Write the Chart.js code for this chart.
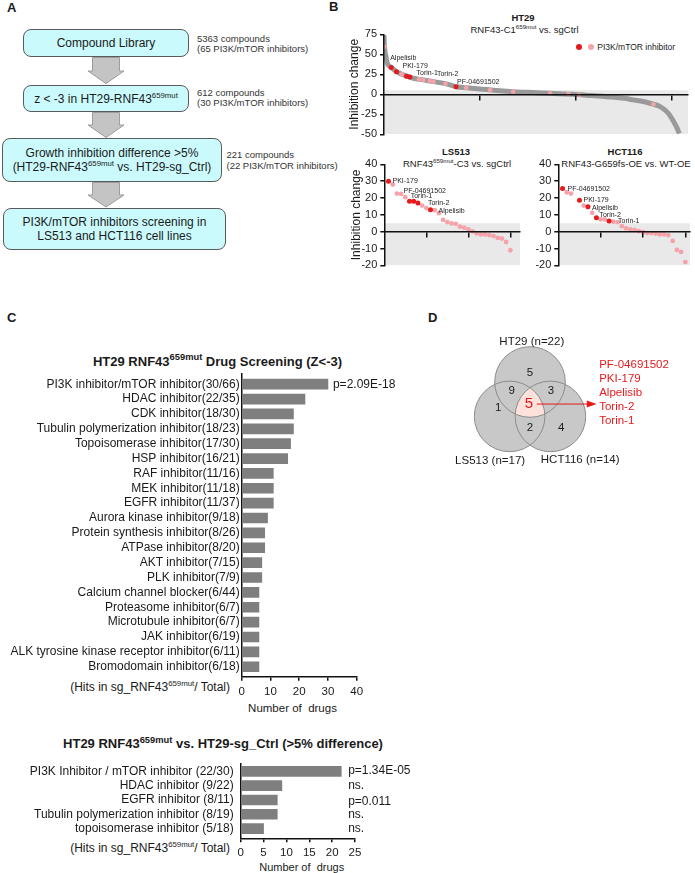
<!DOCTYPE html>
<html>
<head>
<meta charset="utf-8">
<script src="https://cdn.jsdelivr.net/npm/chart.js@4.4.1/dist/chart.umd.min.js"></script>
<style>
body { margin: 0; background: #fff; font-family: "Liberation Sans", Arial, sans-serif; color: #1a1a1a; }
#page { position: relative; width: 695px; height: 873px; overflow: hidden; }
.t { position: absolute; white-space: nowrap; line-height: 1; }
.c { transform: translate(-50%, -50%); }
.l { transform: translateY(-50%); }
.r { transform: translate(-100%, -50%); }
.box { position: absolute; box-sizing: border-box; border: 1px solid #5a5a5a; border-radius: 8px;
       background: #cbfafd; display: flex; flex-direction: column; align-items: center;
       justify-content: center; font-size: 12px; line-height: 14px; white-space: nowrap; }
sup { font-size: 0.65em; line-height: 0; vertical-align: 0; position: relative; top: -0.6em; }
.big sup { font-size: 0.72em; }
.pl { font-weight: bold; font-size: 13px; }
canvas { position: absolute; }
.dot { position: absolute; width: 6px; height: 6px; border-radius: 50%; transform: translate(-50%, -50%); }
</style>
</head>
<body>
<div id="page">

  <!-- panel A : workflow -->
  <div class="t l pl" style="left:7px;top:7px">A</div>
  <div class="box" style="left:23px;top:29px;width:166px;height:28px"><div>Compound Library</div></div>
  <div class="box" style="left:23px;top:85px;width:166px;height:27px"><div>z &lt; -3 in HT29-RNF43<sup>659mut</sup></div></div>
  <div class="box" style="left:2px;top:138px;width:220px;height:44px">
    <div>Growth inhibition difference &gt;5%</div>
    <div>(HT29-RNF43<sup>659mut</sup> vs. HT29-sg_Ctrl)</div>
  </div>
  <div class="box" style="left:3px;top:208px;width:223px;height:42px">
    <div>PI3K/mTOR inhibitors screening in</div>
    <div>LS513 and HCT116 cell lines</div>
  </div>
  <svg style="position:absolute;left:0;top:0" width="240" height="260">
    <g fill="#c4c4c4" stroke="#9c9c9c" stroke-width="1">
      <polygon points="92.5,57.5 119.5,57.5 119.5,71 124,71 106,83.5 88,71 92.5,71"/>
      <polygon points="92.5,112.5 119.5,112.5 119.5,125 124,125 106,137.5 88,125 92.5,125"/>
      <polygon points="92.5,182.5 119.5,182.5 119.5,195 124,195 106,207 88,195 92.5,195"/>
    </g>
  </svg>
  <div class="t" style="left:197px;top:33.5px;font-size:9.5px;line-height:10.6px;color:#333">5363 compounds<br>(65 PI3K/mTOR inhibitors)</div>
  <div class="t" style="left:197px;top:87.7px;font-size:9.5px;line-height:10.6px;color:#333">612 compounds<br>(30 PI3K/mTOR inhibitors)</div>
  <div class="t" style="left:226.5px;top:148.5px;font-size:9.5px;line-height:11px;color:#333">221 compounds<br>(22 PI3K/mTOR inhibitors)</div>

  <!-- panel B texts -->
  <div class="t l pl" style="left:329px;top:6px">B</div>
  <div class="t c" style="left:523px;top:18.3px;font-size:9.5px;font-weight:bold">HT29</div>
  <div class="t c" style="left:524.5px;top:30px;font-size:9.5px">RNF43-C1<sup>659mut</sup> vs. sgCtrl</div>
  <div class="dot" style="left:579.3px;top:46.7px;background:#e41a1c"></div>
  <div class="dot" style="left:591px;top:46.7px;background:#f5a3aa"></div>
  <div class="t l" style="left:597.3px;top:47px;font-size:8.5px">PI3K/mTOR inhibitor</div>
  <div class="t c" style="left:456px;top:152px;font-size:9.5px;font-weight:bold">LS513</div>
  <div class="t c" style="left:457px;top:164px;font-size:9.5px">RNF43<sup>659mut</sup>-C3 vs. sgCtrl</div>
  <div class="t c" style="left:625px;top:152px;font-size:9.5px;font-weight:bold">HCT116</div>
  <div class="t c" style="left:626px;top:164px;font-size:9.5px">RNF43-G659fs-OE vs. WT-OE</div>

  <!-- panel C texts -->
  <div class="t l pl" style="left:7px;top:317px">C</div>
  <div class="t c big" style="left:217.5px;top:361px;font-size:13px;font-weight:bold">HT29 RNF43<sup>659mut</sup> Drug Screening (Z&lt;-3)</div>
  <div class="t r" style="left:230px;top:686.7px;font-size:12px">(Hits in sg_RNF43<sup>659mut</sup>/ Total)</div>
  <div class="t c" style="left:292.5px;top:709.3px;font-size:11.5px">Number of &nbsp;drugs</div>
  <div class="t c big" style="left:223px;top:743.3px;font-size:13px;font-weight:bold">HT29 RNF43<sup>659mut</sup> vs. HT29-sg_Ctrl (&gt;5% difference)</div>
  <div class="t r" style="left:230px;top:848px;font-size:12px">(Hits in sg_RNF43<sup>659mut</sup>/ Total)</div>
  <div class="t c" style="left:301.7px;top:867.3px;font-size:11px">Number of &nbsp;drugs</div>

  <!-- panel D -->
  <div class="t l pl" style="left:428px;top:317px">D</div>
</div>

<script>
// ---- B: HT29 ranked inhibition change (612 compounds)
const ht29Rank   = [0, 1, 4, 7, 16, 26, 37, 51, 61, 82, 103, 130, 150, 172, 200, 228, 269, 318, 346, 394, 430, 464, 500, 519, 540, 554, 575, 592, 603, 610, 615];
const ht29Change = [74, 59.5, 47.5, 38.7, 33.3, 28.3, 25, 22, 20, 18, 15.8, 13, 9.5, 8.3, 6.6, 5, 3.3, 2, 1.2, 0, -1.5, -3, -5, -7, -9, -11.2, -15.4, -23.7, -34, -42, -49];
const ht29PinkRank   = [1, 37, 73, 82, 95, 103, 128, 171, 221, 269, 346, 384, 406, 561];
const ht29PinkChange = [59.5, 25, 18.8, 18, 16.8, 15.8, 13.2, 8.3, 5.2, 3.3, 1.2, 0.2, -0.6, -12.5];
const ht29RedRank   = [15, 26, 47, 54, 150];
const ht29RedChange = [33.5, 28.3, 22.5, 21.5, 9.5];
const ht29RedName   = ['Alpelisib', 'PKI-179', 'Torin-1', 'Torin-2', 'PF-04691502'];
const ht29YTicks    = [-50, -25, 0, 25, 50, 75];
const ht29XTicks    = [200, 400, 600];

// ---- B: LS513 (PI3K/mTOR inhibitors only)
const ls513Rank   = [1,2,3,4,5,6,7,8,9,10,11,12,13,14,15,16,17,18,19,20,21,22,23,24,25,26,27,28,29,30];
const ls513Change = [30, 28, 22.6, 22.4, 20.5, 18, 18, 17, 15.5, 14, 13, 12.8, 11, 7, 5.7, 4.9, 4.7, 3, 2.4, 1.4, 0.2, -1, -1.6, -1.6, -2, -2.6, -3.7, -4.1, -6.1, -11];
const ls513Name   = ['PKI-179','','','','','PF-04691502','Torin-1','Torin-2','','','Alpelisib','','','','','','','','','','','','','','','','','','',''];

// ---- B: HCT116
const hctRank   = [1,2,3,5,6,7,8,9,10,11,12,13,14,15,16,17,18,19,20,21,22,23,24,25,26,27,28,29,30];
const hctChange = [25.6, 23.4, 22.6, 18.7, 15.5, 14.8, 11.2, 8.3, 7.3, 7.3, 6.3, 5.9, 5.7, 3.3, 2, 1.4, 1, 0.4, -0.2, -0.8, -0.8, -1.2, -1.6, -1.6, -2, -5.5, -10.8, -12, -18];
const hctName   = ['PF-04691502','','','PKI-179','','Alpelisib','','Torin-2','','','Torin-1','','','','','','','','','','','','','','','','','',''];
const smallYTicks = [-20, -10, 0, 10, 20, 30, 40];
const smallXTicks = [10, 20, 30];

// ---- C: drug classes
const screenCats = ['PI3K inhibitor/mTOR inhibitor(30/66)', 'HDAC inhibitor(22/35)', 'CDK inhibitor(18/30)',
  'Tubulin polymerization inhibitor(18/23)', 'Topoisomerase inhibitor(17/30)', 'HSP inhibitor(16/21)',
  'RAF inhibitor(11/16)', 'MEK inhibitor(11/18)', 'EGFR inhibitor(11/37)', 'Aurora kinase inhibitor(9/18)',
  'Protein synthesis inhibitor(8/26)', 'ATPase inhibitor(8/20)', 'AKT inhibitor(7/15)', 'PLK inhibitor(7/9)',
  'Calcium channel blocker(6/44)', 'Proteasome inhibitor(6/7)', 'Microtubule inhibitor(6/7)', 'JAK inhibitor(6/19)',
  'ALK tyrosine kinase receptor inhibitor(6/11)', 'Bromodomain inhibitor(6/18)'];
const screenHits = [30, 22, 18, 18, 17, 16, 11, 11, 11, 9, 8, 8, 7, 7, 6, 6, 6, 6, 6, 6];
const screenP    = ['p=2.09E-18'];
const diffCats = ['PI3K Inhibitor / mTOR inhibitor (22/30)', 'HDAC inhibitor (9/22)', 'EGFR inhibitor (8/11)',
  'Tubulin polymerization inhibitor (8/19)', 'topoisomerase inhibitor (5/18)'];
const diffHits = [22, 9, 8, 8, 5];
const diffP    = ['p=1.34E-05', 'ns.', 'p=0.011', 'ns.', 'ns.'];

// ---- D: venn
const vennSets    = ['HT29', 'LS513', 'HCT116'];
const vennSizes   = [22, 17, 14];
const vennRegions = [5, 9, 3, 1, 5, 2, 4];   // HT29 only, HT29+LS513, HT29+HCT116, LS513 only, all, LS513+HCT116, HCT116 only
const vennShared  = ['PF-04691502', 'PKI-179', 'Alpelisib', 'Torin-2', 'Torin-1'];

const RED = '#e41a1c', PINK = '#f5a3aa', LINE_GREY = '#9a9a9a', SHADE = '#e9e9e9', BAR_GREY = '#7f7f7f';
const FONT = '"Liberation Sans", Arial, sans-serif';

Chart.defaults.font.family = FONT;
Chart.defaults.color = '#1a1a1a';
Chart.defaults.animation = false;
Chart.defaults.events = [];
Chart.defaults.plugins.legend.display = false;
Chart.defaults.plugins.tooltip.enabled = false;

function makeCanvas(left, top, w, h) {
  const c = document.createElement('canvas');
  c.width = w; c.height = h;
  c.style.left = left + 'px'; c.style.top = top + 'px';
  c.style.width = w + 'px'; c.style.height = h + 'px';
  document.getElementById('page').appendChild(c);
  return c;
}

function pairs(xs, ys) { return xs.map((x, i) => ({x: x, y: ys[i]})); }

// little text labels next to points (offsets in px)
function labelPlugin(items) {
  return {
    id: 'pointLabels',
    afterDatasetsDraw(chart) {
      const {ctx, scales: {x, y}} = chart;
      ctx.save();
      ctx.font = '7px ' + FONT;
      ctx.fillStyle = '#222';
      ctx.textBaseline = 'middle';
      items.forEach(it => {
        ctx.fillText(it.text, x.getPixelForValue(it.x) + it.dx, y.getPixelForValue(it.y) + it.dy);
      });
      ctx.restore();
    }
  };
}

function rankChart(canvas, o) {
  return new Chart(canvas, {
    type: 'scatter',
    data: {
      datasets: [
        {data: [{x: 0, y: 5}, {x: o.xMax, y: 5}], showLine: true, fill: 'start',
         backgroundColor: SHADE, borderWidth: 0, pointRadius: 0, order: 5},
        ...o.datasets
      ]
    },
    options: {
      responsive: false,
      devicePixelRatio: 1,
      layout: {padding: o.padding},
      scales: {
        x: {
          type: 'linear', min: 0, max: o.xMax, position: {y: 0},
          afterBuildTicks: s => { s.ticks = o.xTicks.map(v => ({value: v})); },
          afterFit: s => { s.height = 0; },
          ticks: {display: false},
          grid: {drawOnChartArea: false, tickLength: 5, color: '#111', lineWidth: 1.5, z: 1},
          border: {color: '#111', width: 1.5, z: 1}
        },
        y: {
          type: 'linear', position: 'left', min: o.yMin, max: o.yMax,
          afterBuildTicks: s => { s.ticks = o.yTicks.map(v => ({value: v})); },
          afterFit: s => { s.width = o.axisWidth; },
          ticks: {autoSkip: false, font: {size: 11}, color: '#1a1a1a', padding: 3,
                  callback: v => String(v)},
          grid: {drawOnChartArea: false, tickLength: 4, color: '#111', lineWidth: 1.5, z: 1},
          border: {color: '#111', width: 1.5, z: 1},
          title: {display: !!o.yTitle, text: o.yTitle, font: {size: 12}, color: '#1a1a1a',
                  padding: {top: o.titlePad || 0, bottom: 0}}
        }
      }
    },
    plugins: [labelPlugin(o.labels)]
  });
}

// HT29
rankChart(makeCanvas(330, 12, 365, 138), {
  xMax: 633, xTicks: ht29XTicks, yMin: -50, yMax: 75, yTicks: ht29YTicks,
  axisWidth: 54, yTitle: 'Inhibition change', titlePad: 17.8,
  padding: {top: 22.3, right: 7, bottom: 15.7, left: 0},
  datasets: [
    {data: pairs(ht29Rank, ht29Change), showLine: true, borderColor: LINE_GREY, borderWidth: 5,
     pointRadius: 0, cubicInterpolationMode: 'monotone', order: 3},
    {data: pairs(ht29PinkRank, ht29PinkChange), pointRadius: 2.3, backgroundColor: PINK, borderWidth: 0, order: 2},
    {data: pairs(ht29RedRank, ht29RedChange), pointRadius: 2.5, backgroundColor: RED, borderWidth: 0, order: 1}
  ],
  labels: [
    {text: ht29RedName[0], x: ht29RedRank[0], y: ht29RedChange[0], dx: -1, dy: -9},
    {text: ht29RedName[1], x: ht29RedRank[1], y: ht29RedChange[1], dx: 6, dy: -6},
    {text: ht29RedName[2], x: ht29RedRank[2], y: ht29RedChange[2], dx: 10, dy: -3},
    {text: ht29RedName[3], x: ht29RedRank[3], y: ht29RedChange[3], dx: 27, dy: -3},
    {text: ht29RedName[4], x: ht29RedRank[4], y: ht29RedChange[4], dx: 1, dy: -4.5}
  ]
});

function inhibitorSets(rank, change, names) {
  const pts = pairs(rank, change);
  return [
    {data: pts.filter((p, i) => !names[i]), pointRadius: 2.4, backgroundColor: PINK, borderWidth: 0, order: 2},
    {data: pts.filter((p, i) => names[i]), pointRadius: 2.5, backgroundColor: RED, borderWidth: 0, order: 1}
  ];
}
function namedLabels(rank, change, names, offsets) {
  const out = [];
  names.forEach((n, i) => { if (n) out.push({text: n, x: rank[i], y: change[i], dx: offsets[n][0], dy: offsets[n][1]}); });
  return out;
}

// LS513
rankChart(makeCanvas(330, 145, 195, 130), {
  xMax: 32.3, xTicks: smallXTicks, yMin: -20, yMax: 40, yTicks: smallYTicks,
  axisWidth: 54.3, yTitle: 'Inhibition change', titlePad: 19.5,
  padding: {top: 19.3, right: 5, bottom: 9, left: 0},
  datasets: inhibitorSets(ls513Rank, ls513Change, ls513Name),
  labels: namedLabels(ls513Rank, ls513Change, ls513Name, {
    'PKI-179': [4, 0], 'PF-04691502': [-6, -10], 'Torin-1': [-3, -5], 'Torin-2': [10, 0], 'Alpelisib': [8, 1]
  })
});

// HCT116
rankChart(makeCanvas(505, 145, 190, 130), {
  xMax: 31.1, xTicks: smallXTicks, yMin: -20, yMax: 40, yTicks: smallYTicks,
  axisWidth: 53.3, yTitle: '',
  padding: {top: 19.3, right: 5, bottom: 9, left: 0},
  datasets: inhibitorSets(hctRank, hctChange, hctName),
  labels: namedLabels(hctRank, hctChange, hctName, {
    'PF-04691502': [5, 0], 'PKI-179': [4, 0], 'Alpelisib': [4, 1], 'Torin-2': [3, -3], 'Torin-1': [9, 0]
  })
});

// ---- C: horizontal bars
function pvalPlugin(texts, hits, fixedX, dys) {
  return {
    id: 'pvals',
    afterDatasetsDraw(chart) {
      const {ctx, scales: {x, y}} = chart;
      ctx.save();
      ctx.font = '12px ' + FONT;
      ctx.fillStyle = '#1a1a1a';
      ctx.textBaseline = 'middle';
      texts.forEach((t, i) => {
        if (!t) return;
        const px = fixedX != null ? x.getPixelForValue(fixedX) : x.getPixelForValue(hits[i]) + 5;
        ctx.fillText(t, px, y.getPixelForValue(i) + (dys ? dys[i] : 0));
      });
      ctx.restore();
    }
  };
}

function hitBarChart(canvas, cats, hits, o) {
  return new Chart(canvas, {
    type: 'bar',
    data: {datasets: [{data: hits.map((v, i) => ({x: v, y: i})),
                       backgroundColor: BAR_GREY, barThickness: 10}]},
    options: {
      indexAxis: 'y',
      responsive: false,
      devicePixelRatio: 1,
      layout: {padding: o.padding},
      scales: {
        y: {
          type: 'linear', reverse: true, offset: false, min: o.yMin, max: o.yMax,
          afterBuildTicks: s => { s.ticks = cats.map((c, i) => ({value: i})); },
          afterFit: s => { s.width = o.axisWidth; },
          ticks: {autoSkip: false, padding: o.labelPad, font: {size: 12}, color: '#1a1a1a',
                  callback: v => cats[v]},
          grid: {display: false, drawTicks: false, offset: false},
          border: {color: '#111', width: 1.5}
        },
        x: {
          min: 0, max: o.xMax,
          afterFit: s => { s.height = 25; },
          ticks: {stepSize: o.xStep, font: {size: 11.5}, color: '#1a1a1a', padding: 4},
          grid: {drawOnChartArea: false, tickLength: 4, color: '#111', lineWidth: 1.5},
          border: {color: '#111', width: 1.5}
        }
      }
    },
    plugins: [pvalPlugin(o.pTexts, hits, o.pX, o.pDy)]
  });
}

hitBarChart(makeCanvas(0, 340, 420, 370), screenCats, screenHits, {
  yMin: -0.686, yMax: 19.67, axisWidth: 241.7, labelPad: 2, xMax: 40, xStep: 10,
  padding: {top: 34, right: 63.3, bottom: 8.3, left: 0},
  pTexts: screenP, pX: null, pDy: null
});

hitBarChart(makeCanvas(0, 750, 420, 123), diffCats, diffHits, {
  yMin: -0.5, yMax: 4.68, axisWidth: 240.7, labelPad: 7, xMax: 25, xStep: 5,
  padding: {top: 11.7, right: 65, bottom: 9.7, left: 0},
  pTexts: diffP, pX: 23.5, pDy: [-1, 0, 2, 0, 0]
});

// ---- D: venn (layout in circle-radius units)
const vennCenters = [[0, 0.975], [-0.578, 0], [0.578, 0]];
const regionSpots = [[0, 1.24], [-0.52, 0.73], [0.59, 0.73], [-0.9, 0.23], [-0.03, 0.35], [0, -0.32], [0.88, -0.32]];
const setLabelSpots = [[0.05, 2.1], [-1.13, -1.26], [1.42, -1.22]];

function unitPx(chart) { const s = chart.scales.x; return s.getPixelForValue(1) - s.getPixelForValue(0); }

const vennPlugin = {
  id: 'venn',
  afterDatasetDraw(chart, args) {
    if (args.index !== 0) return;
    const {ctx, scales: {x, y}} = chart;
    const r = unitPx(chart);
    ctx.save();
    vennCenters.forEach(c => {
      ctx.beginPath();
      ctx.arc(x.getPixelForValue(c[0]), y.getPixelForValue(c[1]), r, 0, Math.PI * 2);
      ctx.clip();
    });
    ctx.fillStyle = '#fde2dc';
    ctx.fillRect(0, 0, chart.width, chart.height);
    ctx.restore();
  },
  afterDraw(chart) {
    const {ctx, scales: {x, y}} = chart;
    ctx.save();
    ctx.textAlign = 'center';
    ctx.textBaseline = 'middle';
    vennRegions.forEach((n, i) => {
      const all = i === 4;
      ctx.font = (all ? '15px ' : '11.5px ') + FONT;
      ctx.fillStyle = all ? RED : '#1a1a1a';
      ctx.fillText(String(n), x.getPixelForValue(regionSpots[i][0]), y.getPixelForValue(regionSpots[i][1]));
    });
    ctx.font = '11.5px ' + FONT;
    ctx.fillStyle = '#1a1a1a';
    vennSets.forEach((s, i) => {
      ctx.fillText(s + ' (n=' + vennSizes[i] + ')', x.getPixelForValue(setLabelSpots[i][0]), y.getPixelForValue(setLabelSpots[i][1]));
    });
    // shared compounds list + arrow
    ctx.textAlign = 'left';
    ctx.fillStyle = RED;
    const lx = x.getPixelForValue(1.96), ly = y.getPixelForValue(1.45);
    vennShared.forEach((s, i) => ctx.fillText(s, lx, ly + i * 13.85));
    const ay = y.getPixelForValue(regionSpots[4][1]);
    const ax0 = x.getPixelForValue(0.19), ax1 = x.getPixelForValue(1.89);
    ctx.strokeStyle = RED;
    ctx.lineWidth = 1;
    ctx.beginPath(); ctx.moveTo(ax0, ay); ctx.lineTo(ax1 - 8, ay); ctx.stroke();
    ctx.beginPath(); ctx.moveTo(ax1, ay); ctx.lineTo(ax1 - 10, ay - 3.5); ctx.lineTo(ax1 - 10, ay + 3.5); ctx.closePath(); ctx.fill();
    ctx.restore();
  }
};

const vennPts = vennCenters.map(c => ({x: c[0], y: c[1]}));
new Chart(makeCanvas(440, 330, 255, 145), {
  type: 'scatter',
  data: {
    datasets: [
      {data: vennPts, pointRadius: ctx => unitPx(ctx.chart), backgroundColor: '#c8c8c8', borderWidth: 0, order: 2},
      {data: vennPts, pointRadius: ctx => unitPx(ctx.chart), backgroundColor: 'rgba(0,0,0,0)',
       borderColor: '#8c8c8c', borderWidth: 1, order: 1}
    ]
  },
  options: {
    responsive: false,
    devicePixelRatio: 1,
    layout: {padding: 0},
    scales: {
      x: {display: false, min: -2.55, max: 4.674},
      y: {display: false, min: -1.66, max: 2.448}
    }
  },
  plugins: [vennPlugin]
});
</script>
</body>
</html>
